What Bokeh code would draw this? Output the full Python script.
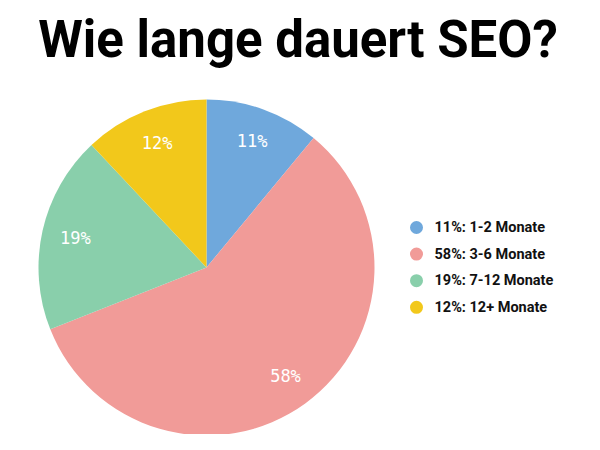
import math
from bokeh.plotting import figure
from bokeh.models import ColumnDataSource, Range1d
from bokeh.core.properties import value
from bokeh.embed import file_html
from bokeh.resources import INLINE

title = "Wie lange dauert SEO?"
categories = ["1-2 Monate", "3-6 Monate", "7-12 Monate", "12+ Monate"]
shares = [11, 58, 19, 12]
colors = ["#6fa8dc", "#f19b98", "#89cfab", "#f2c81b"]

W, H = 584, 434
p = figure(width=W, height=H, x_range=Range1d(0, W), y_range=Range1d(0, H),
           output_backend="svg", toolbar_location=None, min_border=0,
           x_axis_type=None, y_axis_type=None)
p.grid.visible = False
p.outline_line_color = None
p.background_fill_color = "white"

cx, cy, R = 206, 167, 168
total = sum(shares)
starts, ends, mids = [], [], []
cum = 0
for s in shares:
    a0 = math.pi / 2 - 2 * math.pi * cum / total
    cum += s
    a1 = math.pi / 2 - 2 * math.pi * cum / total
    starts.append(a0)
    ends.append(a1)
    mids.append((a0 + a1) / 2)

src = ColumnDataSource(dict(start=starts, end=ends, color=colors))
p.wedge(x=cx, y=cy, radius=R, start_angle="start", end_angle="end",
        direction="clock", fill_color="color", line_color=None, source=src)

lr = 0.8 * R
lab = ColumnDataSource(dict(
    x=[cx + lr * math.cos(m) for m in mids],
    y=[cy + lr * math.sin(m) for m in mids],
    t=[f"{s}%" for s in shares]))
p.text(x="x", y="y", text="t", source=lab, text_color="white",
       text_font=value("DejaVu Sans Mono"), text_font_size="17px",
       text_align="center", text_baseline="middle")

# legend
lx, ly0, step = 416, 207, 26.6
leg = ColumnDataSource(dict(
    x=[lx] * len(shares),
    y=[ly0 - i * step for i in range(len(shares))],
    ty=[ly0 - i * step for i in range(len(shares))],
    tx=[lx + 18] * len(shares),
    color=colors,
    t=[f"{s}%: {c}" for s, c in zip(shares, categories)]))
p.scatter(x="x", y="y", size=13, marker="circle", fill_color="color",
          line_color=None, source=leg)
p.text(x="tx", y="ty", text="t", source=leg, text_color="#111111",
       text_font=value("Roboto"), text_font_style="bold", text_font_size="14.5px",
       text_align="left", text_baseline="middle")

p.text(x=[297.5], y=[395.5], text=[title], text_color="black",
       text_font=value("Roboto"), text_font_style="bold", text_font_size="51px",
       text_align="center", text_baseline="middle")

open("out.html", "w").write(file_html(p, INLINE))
